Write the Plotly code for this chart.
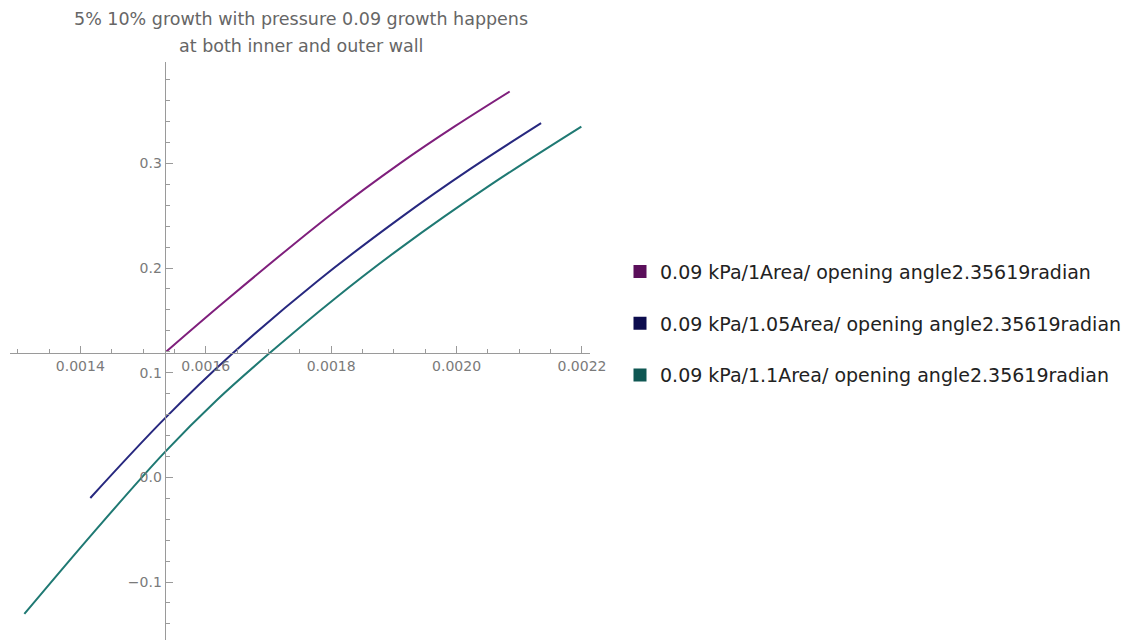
import plotly.graph_objects as go

# Curve samples: x (strain-like quantity) vs y for each area ratio
x_area_100 = [0.0015372, 0.0016340, 0.0018003, 0.0019104, 0.0019976, 0.0020847]
y_area_100 = [0.1203, 0.1700, 0.2515, 0.3003, 0.3356, 0.3687]

x_area_105 = [0.0014159, 0.0015344, 0.0016435, 0.0017770, 0.0019104, 0.0020226, 0.0021348]
y_area_105 = [-0.0197, 0.0561, 0.1188, 0.1870, 0.2480, 0.2950, 0.3385]

x_area_110 = [0.0013107, 0.0014226, 0.0015344, 0.0016182, 0.0017019, 0.0018062,
              0.0019104, 0.0020547, 0.0021990]
y_area_110 = [-0.1305, -0.0516, 0.0239, 0.0742, 0.1188, 0.1710,
              0.2191, 0.2797, 0.3352]

series_names = [
    "0.09 kPa/1Area/ opening angle2.35619radian",
    "0.09 kPa/1.05Area/ opening angle2.35619radian",
    "0.09 kPa/1.1Area/ opening angle2.35619radian",
]
line_colors = ["#7F1F7C", "#27287F", "#1F7973"]
swatch_colors = ["#5B0F5B", "#0C0C4E", "#0F5753"]

title_lines = ["5% 10% growth with pressure 0.09 growth happens",
               "at both inner and outer wall"]

# axes cross at this point (x, y)
origin_x = 0.0015344
origin_y = 0.1188
x_range = [0.0012878, 0.0022128]
y_range = [-0.1554, 0.3969]

W, H = 1131, 640
ML, MT = 10, 62
plot_w = 580                      # plot area width in px
paper_w = W - ML

fig = go.Figure()
xs = [x_area_100, x_area_105, x_area_110]
ys = [y_area_100, y_area_105, y_area_110]
for i in range(3):
    fig.add_trace(go.Scatter(
        x=xs[i], y=ys[i], mode="lines",
        line=dict(color=line_colors[i], width=2, shape="spline", smoothing=1.0),
        showlegend=False, hoverinfo="skip",
    ))
    # square legend swatch
    fig.add_trace(go.Scatter(
        x=[None], y=[None], mode="markers",
        marker=dict(symbol="square", size=13, color=swatch_colors[i]),
        name=series_names[i], legendgroup=f"g{i}", showlegend=True,
    ))

axis_color = "#9a9a9a"
base_font = "DejaVu Sans, Liberation Sans, Arial, sans-serif"
tick_font = dict(family=base_font, size=14, color="#7a7a7a")
title_font = dict(family=base_font, size=17.5, color="#666666")

annotations = [
    dict(text=title_lines[0], xref="paper", yref="paper",
         x=(301 - ML) / paper_w, y=1 + (MT - 19) / (H - MT),
         xanchor="center", yanchor="middle", showarrow=False, font=title_font),
    dict(text=title_lines[1], xref="paper", yref="paper",
         x=(301 - ML) / paper_w, y=1 + (MT - 46) / (H - MT),
         xanchor="center", yanchor="middle", showarrow=False, font=title_font),
]

fig.update_layout(
    width=W, height=H,
    margin=dict(l=ML, r=0, t=MT, b=0, autoexpand=False),
    paper_bgcolor="white", plot_bgcolor="white",
    annotations=annotations,
    xaxis=dict(
        domain=[0, plot_w / paper_w],
        range=x_range, anchor="free",
        position=(origin_y - y_range[0]) / (y_range[1] - y_range[0]),
        showgrid=False, zeroline=False, showline=True, linecolor=axis_color, linewidth=1,
        ticks="inside", ticklen=7, tickcolor=axis_color, tickwidth=1,
        tick0=0.0014, dtick=0.0002, tickformat=".4f", tickfont=tick_font,
        minor=dict(dtick=0.00005, tick0=0.0014, ticks="inside", ticklen=4,
                   tickcolor=axis_color, showgrid=False),
    ),
    yaxis=dict(
        range=y_range, anchor="free",
        position=(origin_x - x_range[0]) / (x_range[1] - x_range[0]) * plot_w / paper_w,
        showgrid=False, zeroline=False, showline=True, linecolor=axis_color, linewidth=1,
        ticks="inside", ticklen=7, tickcolor=axis_color, tickwidth=1,
        tick0=0, dtick=0.1, tickformat=".1f", tickfont=tick_font,
        minor=dict(dtick=0.02, tick0=0, ticks="inside", ticklen=4,
                   tickcolor=axis_color, showgrid=False),
    ),
    legend=dict(
        x=(620 - ML) / paper_w, xanchor="left", y=0.5472, yanchor="middle",
        font=dict(family=base_font, size=19, color="#222222"),
        tracegroupgap=24, itemwidth=30, bgcolor="rgba(0,0,0,0)",
    ),
)

fig.write_html("out.html")
